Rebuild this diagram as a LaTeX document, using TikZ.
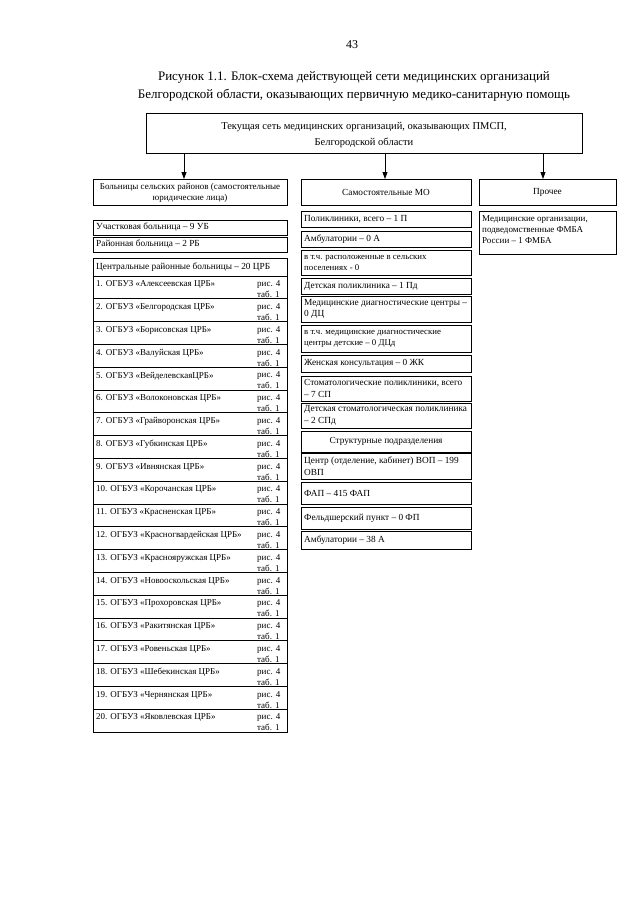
\documentclass[tikz,border=0pt]{standalone}
\usepackage{fontspec}
\setmainfont{Liberation Serif}
\usetikzlibrary{arrows.meta}
\begin{document}
\begin{tikzpicture}[x=1pt,y=-1pt,
  box/.style={draw, line width=0.9pt, anchor=north west, inner sep=0pt, outer sep=0pt},
  txt/.style={font=\fontsize{9.3}{11.5}\selectfont, inner sep=0pt, anchor=west, align=left},
  itxt/.style={font=\fontsize{9}{11}\selectfont, inner sep=0pt, anchor=north west, align=left},
  stxt/.style={font=\fontsize{8.8}{11}\selectfont, inner sep=0pt, anchor=west, align=left},
  ctxt/.style={font=\fontsize{9.3}{11}\selectfont, inner sep=0pt, align=center},
  arr/.style={line width=0.8pt, -{Triangle[width=5pt,length=7pt]}}]
\fill[white] (0,0) rectangle (640,905);
\useasboundingbox (0,0) rectangle (640,905);
% page number and title
\node[font=\fontsize{12}{14}\selectfont, inner sep=0pt] (pg) at (352,45) {43};
\node[font=\fontsize{13}{18}\selectfont, inner sep=0pt, align=center] (title) at (354,86)
  {Рисунок 1.1. Блок-схема действующей сети медицинских организаций\\
   Белгородской области, оказывающих первичную медико-санитарную помощь};
% top box
\node[box, minimum width=436, minimum height=40] (top) at (146,113) {};
\node[font=\fontsize{10.5}{15.5}\selectfont, inner sep=0pt, align=center] (toptxt) at ([yshift=-2]top.center)
  {Текущая сеть медицинских организаций, оказывающих ПМСП,\\Белгородской области};
% header boxes
\node[box, minimum width=194, minimum height=26] (hl) at (93,179) {};
\node[ctxt, font=\fontsize{9}{11}\selectfont] (hltxt) at ([yshift=-1]hl.center) {Больницы сельских районов (самостоятельные\\юридические лица)};
\node[box, minimum width=170, minimum height=26] (hm) at (301,179) {};
\node[ctxt] (hmtxt) at (hm.center) {Самостоятельные МО};
\node[box, minimum width=137, minimum height=26] (hr) at (479,179) {};
\node[ctxt] (hrtxt) at (hr.center) {Прочее};
% arrows
\coordinate (a1) at (184,153);
\coordinate (a2) at (385,153);
\coordinate (a3) at (543,153);
\draw[arr] (a1) -- (a1 |- hl.north);
\draw[arr] (a2) -- (a2 |- hm.north);
\draw[arr] (a3) -- (a3 |- hr.north);
% left column
\node[box, minimum width=194, minimum height=15] (l1) at (93,220) {};
\node[txt] (l1t) at ([xshift=3]l1.west) {Участковая больница – 9 УБ};
\node[box, minimum width=194, minimum height=15] (l2) at (93,237) {};
\node[txt] (l2t) at ([xshift=3]l2.west) {Районная больница – 2 РБ};
\node[box, minimum width=194, minimum height=18] (l3) at (93,258) {};
\node[txt] (l3t) at ([xshift=3]l3.west) {Центральные районные больницы – 20 ЦРБ};
\foreach \i/\nm in {1/Алексеевская ЦРБ, 2/Белгородская ЦРБ, 3/Борисовская ЦРБ, 4/Валуйская ЦРБ,
  5/ВейделевскаяЦРБ, 6/Волоконовская ЦРБ, 7/Грайворонская ЦРБ, 8/Губкинская ЦРБ,
  9/Ивнянская ЦРБ, 10/Корочанская ЦРБ, 11/Красненская ЦРБ, 12/Красногвардейская ЦРБ,
  13/Краснояружская ЦРБ, 14/Новооскольская ЦРБ, 15/Прохоровская ЦРБ, 16/Ракитянская ЦРБ,
  17/Ровеньская ЦРБ, 18/Шебекинская ЦРБ, 19/Чернянская ЦРБ, 20/Яковлевская ЦРБ}{
  \pgfmathsetmacro{\ty}{276+(\i-1)*22.8}
  \node[box, minimum width=194, minimum height=22.8] (c\i) at (93,\ty) {};
  \node[itxt] (c\i n) at ([xshift=3,yshift=-4.5]c\i.north west) {\i. ОГБУЗ «\nm»};
  \node[itxt] (c\i r) at ([xshift=164,yshift=-4.5]c\i.north west) {рис. 4\\таб. 1};
}
% middle column
\node[box, minimum width=170, minimum height=16] (m1) at (301,211) {};
\node[txt] (m1t) at ([xshift=3]m1.west) {Поликлиники, всего – 1 П};
\node[box, minimum width=170, minimum height=16] (m2) at (301,231) {};
\node[txt] (m2t) at ([xshift=3]m2.west) {Амбулатории – 0 А};
\node[box, minimum width=170, minimum height=25] (m3) at (301,250) {};
\node[stxt] (m3t) at ([xshift=3]m3.west) {в т.ч. расположенные в сельских\\поселениях - 0};
\node[box, minimum width=170, minimum height=16] (m4) at (301,278) {};
\node[txt] (m4t) at ([xshift=3]m4.west) {Детская поликлиника – 1 Пд};
\node[box, minimum width=170, minimum height=26] (m5) at (301,296) {};
\node[txt] (m5t) at ([xshift=3]m5.west) {Медицинские диагностические центры –\\0 ДЦ};
\node[box, minimum width=170, minimum height=27] (m6) at (301,325) {};
\node[stxt] (m6t) at ([xshift=3]m6.west) {в т.ч. медицинские диагностические\\центры детские – 0 ДЦд};
\node[box, minimum width=170, minimum height=17] (m7) at (301,355) {};
\node[txt] (m7t) at ([xshift=3]m7.west) {Женская консультация – 0 ЖК};
\node[box, minimum width=170, minimum height=25] (m8) at (301,376) {};
\node[txt] (m8t) at ([xshift=3]m8.west) {Стоматологические поликлиники, всего\\– 7 СП};
\node[box, minimum width=170, minimum height=25] (m9) at (301,403) {};
\node[txt] (m9t) at ([xshift=3]m9.west) {Детская стоматологическая поликлиника\\– 2 СПд};
\node[box, minimum width=170, minimum height=21] (m10) at (301,431) {};
\node[ctxt] (m10t) at (m10.center) {Структурные подразделения};
\node[box, minimum width=170, minimum height=26] (m11) at (301,453) {};
\node[txt] (m11t) at ([xshift=3]m11.west) {Центр (отделение, кабинет) ВОП – 199\\ОВП};
\node[box, minimum width=170, minimum height=22] (m12) at (301,482) {};
\node[txt] (m12t) at ([xshift=3]m12.west) {ФАП – 415 ФАП};
\node[box, minimum width=170, minimum height=22] (m13) at (301,507) {};
\node[txt] (m13t) at ([xshift=3]m13.west) {Фельдшерский пункт – 0 ФП};
\node[box, minimum width=170, minimum height=18] (m14) at (301,531) {};
\node[txt] (m14t) at ([xshift=3]m14.west) {Амбулатории – 38 А};
% right column
\node[box, minimum width=137, minimum height=43] (r1) at (479,211) {};
\node[itxt, font=\fontsize{9}{11}\selectfont] (r1t) at ([xshift=3,yshift=-4]r1.north west) {Медицинские организации,\\подведомственные ФМБА\\России – 1 ФМБА};
\end{tikzpicture}
\end{document}
